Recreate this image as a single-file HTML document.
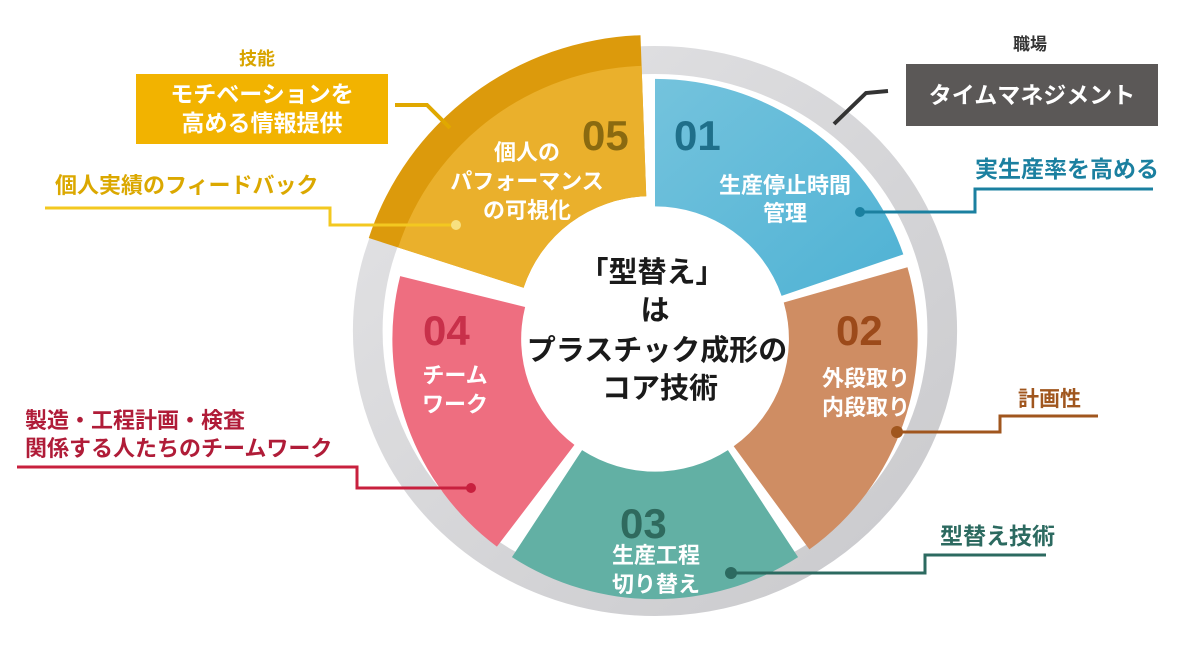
<!DOCTYPE html>
<html><head><meta charset="utf-8"><style>
html,body{margin:0;padding:0;background:#fff;width:1200px;height:650px;overflow:hidden}
svg text{font-family:"Liberation Sans","Noto Sans CJK JP",sans-serif;font-weight:bold}
</style></head><body>
<svg width="1200" height="650" viewBox="0 0 1200 650" xmlns="http://www.w3.org/2000/svg">
<defs>
<linearGradient id="ring" x1="0" y1="0" x2="1" y2="1"><stop offset="0" stop-color="#e4e4e6"/><stop offset="1" stop-color="#c9c9cc"/></linearGradient>
<linearGradient id="g1" x1="0" y1="0" x2="1" y2="1"><stop offset="0" stop-color="#74c3dd"/><stop offset="1" stop-color="#4fb2d4"/></linearGradient>
</defs>
<g transform="translate(655,331) scale(1.06,1)">
<circle cx="0" cy="0" r="271" fill="none" stroke="url(#ring)" stroke-width="28"/>
</g>
<g transform="translate(655,339) scale(1.03,1.02)">
<path d="M0,-255 A255,255 0 0 1 241.1,-83.0 L122.9,-42.3 A130,130 0 0 0 0,-130 Z" fill="url(#g1)"/>
<path d="M245.1,-70.3 A255,255 0 0 1 149.9,206.3 L76.4,105.2 A130,130 0 0 0 125.0,-35.8 Z" fill="#cf8d63"/>
<path d="M138.9,213.9 A255,255 0 0 1 -138.9,213.9 L-70.8,109.0 A130,130 0 0 0 70.8,109.0 Z" fill="#62b0a4"/>
<path d="M-153.5,203.6 A255,255 0 0 1 -247.4,-61.7 L-126.1,-31.4 A130,130 0 0 0 -78.2,103.8 Z" fill="#ee6e80"/>
<g transform="translate(-4,-10)">
<path d="M-273.9,-89.0 A288,288 0 0 1 -10.1,-287.8 L-4.5,-129.9 A130,130 0 0 0 -123.6,-40.2 Z" fill="#dc9a0c"/>
<path d="M-245.4,-79.7 A258,258 0 0 1 -9.0,-257.8 L-4.5,-129.9 A130,130 0 0 0 -123.6,-40.2 Z" fill="#eab02c"/>
</g>
</g>
<!-- numbers -->
<g font-size="42" font-family="Liberation Sans, sans-serif">
<text x="674" y="150" fill="#1f6f8a">01</text>
<text x="582" y="150" fill="#8a6a10">05</text>
<text x="836" y="345" fill="#9c4a1a">02</text>
<text x="423" y="345" fill="#c8304a">04</text>
<text x="620" y="538" fill="#2f6a5e">03</text>
</g>
<g fill="#fff" font-size="22" text-anchor="middle">
<text x="785" y="193">生産停止時間</text><text x="785" y="221">管理</text>
<text x="527" y="160">個人の</text><text x="527" y="189">パフォーマンス</text><text x="527" y="218">の可視化</text>
<text x="866" y="386">外段取り</text><text x="866" y="415">内段取り</text>
<text x="455" y="383">チーム</text><text x="455" y="412">ワーク</text>
<text x="656" y="563">生産工程</text><text x="656" y="592">切り替え</text>
</g>
<g fill="#1a1a1a" font-size="29" text-anchor="middle">
<text x="652" y="282">「型替え」</text>
<text x="655" y="320">は</text>
<text x="657" y="360">プラスチック成形の</text>
<text x="660" y="398">コア技術</text>
</g>
<!-- outer labels -->
<text x="257" y="65" fill="#d8a400" font-size="18" text-anchor="middle">技能</text>
<rect x="136" y="74" width="252" height="70" fill="#f2b300"/>
<text x="262" y="102" fill="#fff" font-size="23" text-anchor="middle">モチベーションを</text>
<text x="262" y="131" fill="#fff" font-size="23" text-anchor="middle">高める情報提供</text>
<polyline points="395,105 427,105 450,128" fill="none" stroke="#e0a800" stroke-width="4"/>
<text x="55" y="193" fill="#dba800" font-size="22">個人実績のフィードバック</text>
<polyline points="45,208 330,208 330,225 455,225" fill="none" stroke="#f3c820" stroke-width="3"/>
<circle cx="456" cy="225" r="5" fill="#f7e080"/>
<text x="25" y="428" fill="#b01c38" font-size="22">製造・工程計画・検査</text>
<text x="25" y="456" fill="#b01c38" font-size="22">関係する人たちのチームワーク</text>
<polyline points="17,467 357,467 357,488 470,488" fill="none" stroke="#c8203e" stroke-width="3"/>
<circle cx="471" cy="488" r="5" fill="#c8203e"/>
<text x="1030" y="50" fill="#333" font-size="17" text-anchor="middle">職場</text>
<rect x="906" y="64" width="252" height="62" fill="#5b5857"/>
<text x="1032" y="103" fill="#fff" font-size="23" text-anchor="middle">タイムマネジメント</text>
<polyline points="834,124 866,93 888,91" fill="none" stroke="#333" stroke-width="4"/>
<text x="975" y="177" fill="#1b80a0" font-size="23">実生産率を高める</text>
<polyline points="860,212 975,212 975,189 1153,189" fill="none" stroke="#1b80a0" stroke-width="3"/>
<circle cx="860" cy="212" r="5" fill="#1b80a0"/>
<text x="1018" y="406" fill="#a0561e" font-size="21">計画性</text>
<polyline points="897,432 1000,432 1000,416 1098,416" fill="none" stroke="#a0561e" stroke-width="3"/>
<circle cx="897" cy="432" r="6" fill="#a0561e"/>
<text x="940" y="544" fill="#2c6a60" font-size="23">型替え技術</text>
<polyline points="730,573 925,573 925,555 1046,555" fill="none" stroke="#2c6a60" stroke-width="3"/>
<circle cx="731" cy="573" r="6" fill="#2c6a60"/>
</svg>
</body></html>
